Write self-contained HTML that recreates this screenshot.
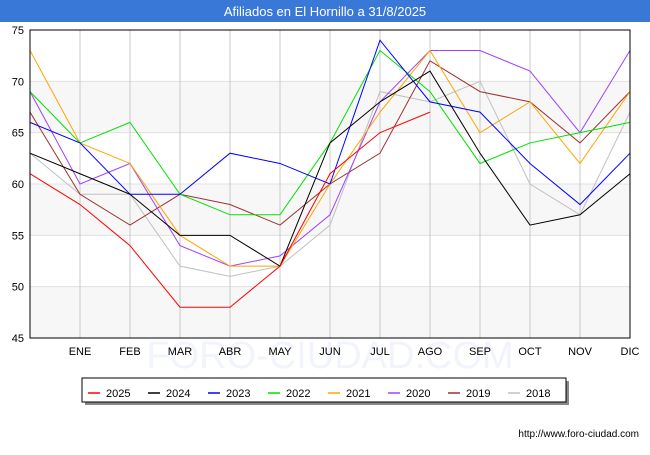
<!DOCTYPE html>
<html><head><meta charset="utf-8"><style>
body{margin:0;width:650px;height:450px;background:#fff;font-family:"Liberation Sans",sans-serif;overflow:hidden}
</style></head><body>
<svg id="c" width="650" height="450" xmlns="http://www.w3.org/2000/svg">
<rect x="0" y="0" width="650" height="22" fill="#3a78d8"/>
<text x="325" y="16" text-anchor="middle" font-size="13" fill="#fff">Afiliados en El Hornillo a 31/8/2025</text>
<g id="plot"></g>
<text x="639" y="437" text-anchor="end" font-size="10" fill="#000">http://www.foro-ciudad.com</text>
</svg>
<script>
const months=["","ENE","FEB","MAR","ABR","MAY","JUN","JUL","AGO","SEP","OCT","NOV","DIC"];
const yTicks=[45,50,55,60,65,70,75];
const seriesNames=["2025","2024","2023","2022","2021","2020","2019","2018"];
const seriesColors=["#ff0000","#000000","#0000ff","#00e000","#ffa500","#a040ff","#a03030","#c0c0c0"];
const s2025=[61,58,54,48,48,52,61,65,67];
const s2024=[63,61,59,55,55,52,64,68,71,63,56,57,61];
const s2023=[66,64,59,59,63,62,60,74,68,67,62,58,63];
const s2022=[69,64,66,59,57,57,64,73,69,62,64,65,66];
const s2021=[73,64,62,55,52,52,60,67,73,65,68,62,69];
const s2020=[69,60,62,54,52,53,57,68,73,73,71,65,73];
const s2019=[67,59,56,59,58,56,60,63,72,69,68,64,69];
const s2018=[63,59,59,52,51,52,56,69,68,70,60,57,67];
const allSeries=[s2025,s2024,s2023,s2022,s2021,s2020,s2019,s2018];
const L=30,R=630,T=30,B=338,ymin=45,ymax=75;
const X=i=>L+i*(R-L)/(months.length-1);
const Y=v=>B-(v-ymin)*(B-T)/(ymax-ymin);
const NS="http://www.w3.org/2000/svg";
const g=document.getElementById('plot');
function mk(t,a){const e=document.createElementNS(NS,t);for(const k in a)e.setAttribute(k,a[k]);g.appendChild(e);return e;}
for(let i=0;i<yTicks.length-1;i++){if(i%2===0){const r=mk('rect',{x:L,y:Y(yTicks[i+1]),width:R-L,height:Y(yTicks[i])-Y(yTicks[i+1]),fill:'#f7f7f7'});

}}
const wm=mk('text',{x:330,y:368,'text-anchor':'middle','font-size':38,fill:'#f2f4fc'});wm.textContent='FORO-CIUDAD.COM';


yTicks.forEach(v=>{const l=mk('line',{x1:L,x2:R,y1:Y(v),y2:Y(v),stroke:'#e0e0e0'});


const t=mk('text',{x:L-6,y:Y(v)+4,'text-anchor':'end','font-size':11,fill:'#000'});t.textContent=v;

});
months.forEach((m,i)=>{if(i>0&&i<months.length-1){const l=mk('line',{x1:X(i),x2:X(i),y1:T,y2:B,stroke:'#c8c8c8'});

}
if(m){const t=mk('text',{x:X(i),y:B+17,'text-anchor':'middle','font-size':11,fill:'#000'});t.textContent=m;

}});
for(let s=allSeries.length-1;s>=0;s--){const d=allSeries[s];
const p=mk('polyline',{points:d.map((v,i)=>X(i)+','+Y(v)).join(' '),fill:'none',stroke:seriesColors[s],'stroke-width':1});

}
const fr=mk('rect',{x:L,y:T,width:R-L,height:B-T,fill:'none',stroke:'#000'});


const sh=mk('rect',{x:85,y:381,width:484,height:24,fill:'#888'});


const lb=mk('rect',{x:82,y:378,width:484,height:24,fill:'#fff',stroke:'#000'});


seriesNames.forEach((n,i)=>{const x0=88+i*60;
const l=mk('line',{x1:x0,x2:x0+12,y1:393,y2:393,stroke:seriesColors[i],'stroke-width':1.5});


const t=mk('text',{x:x0+18,y:397,'font-size':11,fill:'#000'});t.textContent=n;

});
</script>
</body></html>
